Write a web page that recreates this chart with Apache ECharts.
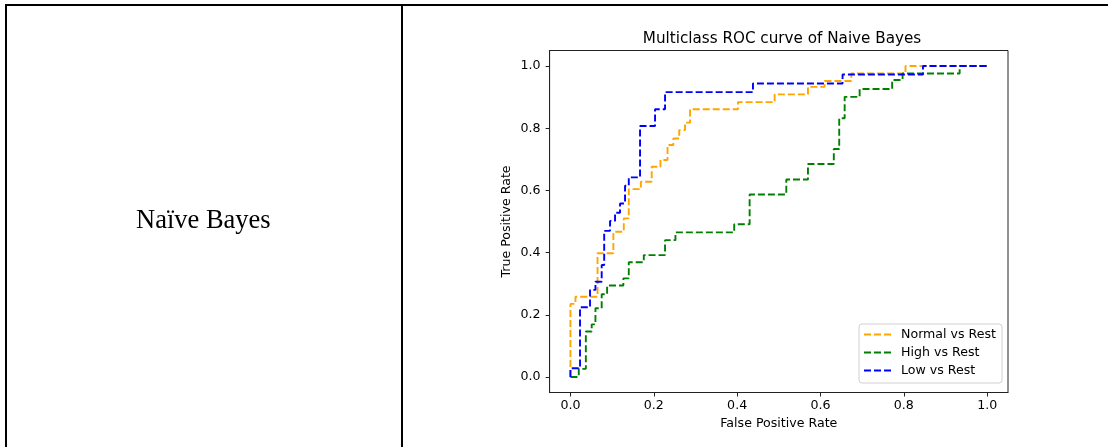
<!DOCTYPE html>
<html>
<head>
<meta charset="utf-8">
<title>Multiclass ROC curve of Naive Bayes</title>
<script src="https://cdn.jsdelivr.net/npm/echarts@6/dist/echarts.min.js"></script>
<style>
  html, body { margin: 0; padding: 0; background: #fff; }
  #chart_roc { width: 1108px; height: 447px; }
</style>
</head>
<body>
<div id="chart_roc"></div>
<script>
// ROC corner points (fpr = x, tpr = y)
const normalFpr = [0, 0, 0.012, 0.012, 0.065, 0.065, 0.103, 0.103, 0.128, 0.128, 0.140, 0.140, 0.169, 0.169, 0.195, 0.195, 0.216, 0.216, 0.233, 0.233, 0.247, 0.247, 0.261, 0.261, 0.275, 0.275, 0.287, 0.287, 0.402, 0.402, 0.490, 0.490, 0.570, 0.570, 0.610, 0.610, 0.674, 0.674, 0.804, 0.804, 1.0]
const normalTpr = [0, 0.235, 0.235, 0.258, 0.258, 0.398, 0.398, 0.467, 0.467, 0.510, 0.510, 0.604, 0.604, 0.628, 0.628, 0.676, 0.676, 0.698, 0.698, 0.746, 0.746, 0.767, 0.767, 0.794, 0.794, 0.818, 0.818, 0.861, 0.861, 0.884, 0.884, 0.909, 0.909, 0.933, 0.933, 0.952, 0.952, 0.976, 0.976, 1.0, 1.0]

const highFpr = [0, 0.020, 0.020, 0.037, 0.037, 0.051, 0.051, 0.060, 0.060, 0.075, 0.075, 0.088, 0.088, 0.127, 0.127, 0.140, 0.140, 0.176, 0.176, 0.227, 0.227, 0.252, 0.252, 0.393, 0.393, 0.430, 0.430, 0.518, 0.518, 0.570, 0.570, 0.632, 0.632, 0.645, 0.645, 0.658, 0.658, 0.694, 0.694, 0.772, 0.772, 0.797, 0.797, 0.934, 0.934, 1.0]
const highTpr = [0, 0, 0.026, 0.026, 0.146, 0.146, 0.169, 0.169, 0.221, 0.221, 0.266, 0.266, 0.294, 0.294, 0.317, 0.317, 0.369, 0.369, 0.392, 0.392, 0.440, 0.440, 0.465, 0.465, 0.491, 0.491, 0.587, 0.587, 0.635, 0.635, 0.685, 0.685, 0.733, 0.733, 0.832, 0.832, 0.901, 0.901, 0.926, 0.926, 0.955, 0.955, 0.976, 0.976, 1.0, 1.0]

const lowFpr = [0, 0, 0.023, 0.023, 0.047, 0.047, 0.060, 0.060, 0.075, 0.075, 0.081, 0.081, 0.095, 0.095, 0.107, 0.107, 0.119, 0.119, 0.131, 0.131, 0.140, 0.140, 0.167, 0.167, 0.203, 0.203, 0.227, 0.227, 0.438, 0.438, 0.653, 0.653, 0.846, 0.846, 1.0]
const lowTpr = [0, 0.028, 0.028, 0.224, 0.224, 0.280, 0.280, 0.306, 0.306, 0.360, 0.360, 0.470, 0.470, 0.502, 0.502, 0.528, 0.528, 0.558, 0.558, 0.615, 0.615, 0.642, 0.642, 0.807, 0.807, 0.861, 0.861, 0.916, 0.916, 0.944, 0.944, 0.973, 0.973, 1.0, 1.0]

const tickValues = [0, 0.2, 0.4, 0.6, 0.8, 1.0]
const seriesNames = ['Normal vs Rest', 'High vs Rest', 'Low vs Rest']
const seriesColors = ['#FFA500', '#008000', '#0000FF']

const pairs = (xs, ys) => xs.map((x, i) => [x, ys[i]])
const curves = [pairs(normalFpr, normalTpr), pairs(highFpr, highTpr), pairs(lowFpr, lowTpr)]

const myChart = echarts.init(document.getElementById('chart_roc'))

const mplFont = 'DejaVu Sans'

// shared axis look (matplotlib style: outside ticks, no grid lines)
function axisBase(name) {
  return {
    type: 'value',
    min: -0.05,
    max: 1.05,
    name: name,
    nameLocation: 'middle',
    nameTextStyle: { fontFamily: mplFont, fontSize: 12.6, color: '#000' },
    axisLine: { show: true, onZero: false, lineStyle: { color: '#222', width: 1 } },
    axisTick: { show: true, inside: false, length: 4, customValues: tickValues, lineStyle: { color: '#222', width: 1 } },
    axisLabel: {
      customValues: tickValues,
      fontFamily: mplFont,
      fontSize: 12.6,
      color: '#000',
      formatter: v => v.toFixed(1)
    },
    splitLine: { show: false }
  }
}

const xAxis = axisBase('False Positive Rate')
xAxis.nameGap = 24
xAxis.axisLabel.margin = 7

const yAxis = axisBase('True Positive Rate')
yAxis.nameGap = 36
yAxis.axisLabel.margin = 9

const option = {
  animation: false,
  backgroundColor: '#fff',
  title: {
    text: 'Multiclass ROC curve of Naive Bayes',
    left: 777,
    top: 27,
    textAlign: 'center',
    textStyle: { fontFamily: mplFont, fontSize: 15.2, fontWeight: 'normal', color: '#000' }
  },
  grid: {
    left: 549.6,
    top: 50.5,
    width: 458.4,
    height: 342,
    show: true,
    borderColor: '#222',
    borderWidth: 1,
    backgroundColor: '#fff'
  },
  legend: {
    orient: 'vertical',
    left: 859,
    top: 324,
    padding: [4, 6, 6, 4],
    itemWidth: 27,
    itemHeight: 14,
    itemGap: 4.7,
    // hide the marker dot, keep only the dashed line sample
    itemStyle: { opacity: 0 },
    backgroundColor: 'rgba(255,255,255,0.8)',
    borderColor: '#d0d0d0',
    borderWidth: 1,
    borderRadius: 3,
    textStyle: { fontFamily: mplFont, fontSize: 12.6, color: '#000', padding: [0, 0, 0, 5] },
    data: seriesNames
  },
  xAxis: xAxis,
  yAxis: yAxis,
  series: seriesNames.map((n, i) => ({
    name: n,
    type: 'line',
    data: curves[i],
    showSymbol: false,
    color: seriesColors[i],
    lineStyle: { color: seriesColors[i], width: 1.9, type: [7, 3] }
  })),
  // table cell borders and the left cell text
  graphic: [
    { type: 'line', shape: { x1: 5, y1: 5, x2: 1108, y2: 5 }, style: { stroke: '#000', lineWidth: 2 } },
    { type: 'line', shape: { x1: 6, y1: 4, x2: 6, y2: 447 }, style: { stroke: '#000', lineWidth: 2 } },
    { type: 'line', shape: { x1: 402, y1: 4, x2: 402, y2: 447 }, style: { stroke: '#000', lineWidth: 2 } },
    {
      type: 'text',
      left: 136,
      top: 208,
      style: { text: 'Naïve Bayes', font: '26.5px "Liberation Serif"', fill: '#000' }
    }
  ]
}

myChart.setOption(option)

window.addEventListener('resize', function() {
  myChart.resize()
})
</script>
</body>
</html>
